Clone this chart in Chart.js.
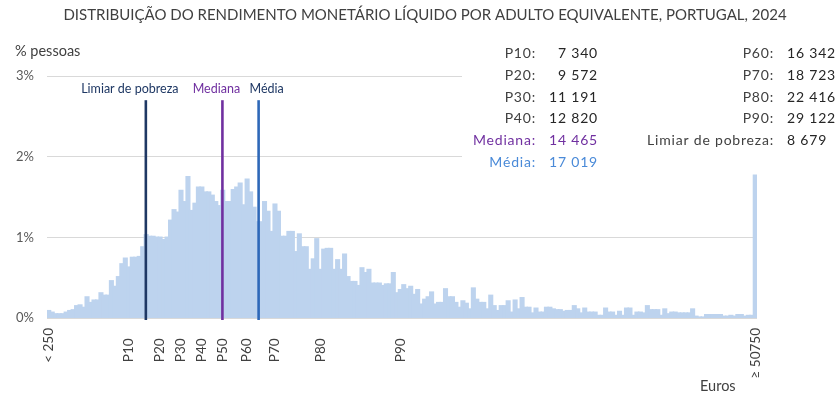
<!DOCTYPE html>
<html lang="pt">
<head>
<meta charset="utf-8">
<title>Distribuição do rendimento monetário líquido</title>
<script src="https://cdn.jsdelivr.net/npm/chart.js@4.4.1/dist/chart.umd.min.js"></script>
<style>
  body { margin: 0; background: #fff; }
  #wrap { width: 840px; height: 399px; }
</style>
</head>
<body>
<div id="wrap"><canvas id="grafico"></canvas></div>
<script>
// escalões de 250 euros: < 250, 250, 500, ..., >= 50750
const escaloes = ['< 250'];
for (let e = 250; e < 50750; e += 250) escaloes.push(String(e));
escaloes.push('≥ 50750');

// % de pessoas em cada escalão
const pessoas = [
  0.09,0.07,0.05,0.05,0.05,0.07,0.09,0.10,0.15,0.16,
  0.13,0.26,0.19,0.22,0.22,0.31,0.28,0.28,0.46,0.39,
  0.51,0.67,0.74,0.63,0.75,0.75,0.76,0.88,1.03,1.01,
  1.01,1.00,1.00,0.97,1.00,1.21,1.34,1.31,1.58,1.44,
  1.75,1.33,1.42,1.62,1.62,1.56,1.56,1.52,1.44,1.39,
  1.58,1.44,1.44,1.59,1.62,1.67,1.40,1.72,1.56,1.37,
  1.19,1.19,1.44,1.32,1.07,1.41,1.32,1.01,1.01,1.07,
  1.07,0.82,1.04,0.88,0.88,0.60,0.73,0.98,0.60,0.85,
  0.86,0.86,0.60,0.72,0.60,0.79,0.51,0.45,0.45,0.40,
  0.62,0.56,0.60,0.43,0.43,0.43,0.40,0.42,0.42,0.56,
  0.31,0.35,0.41,0.36,0.39,0.29,0.35,0.17,0.23,0.26,
  0.32,0.17,0.19,0.19,0.36,0.26,0.26,0.19,0.13,0.21,
  0.18,0.11,0.37,0.23,0.19,0.19,0.11,0.28,0.15,0.09,
  0.15,0.15,0.21,0.07,0.22,0.11,0.25,0.13,0.13,0.06,
  0.12,0.07,0.07,0.13,0.13,0.11,0.10,0.10,0.08,0.09,
  0.09,0.15,0.11,0.06,0.12,0.07,0.07,0.07,0.03,0.03,
  0.12,0.07,0.07,0.03,0.08,0.03,0.12,0.12,0.03,0.07,
  0.07,0.06,0.15,0.10,0.10,0.10,0.03,0.11,0.05,0.07,
  0.07,0.06,0.06,0.06,0.06,0.11,0.02,0.01,0.01,0.04,
  0.04,0.04,0.04,0.04,0.02,0.02,0.03,0.02,0.04,0.04,
  0.02,0.03,0.03,1.77
];

// rótulos do eixo x (índice do escalão -> texto)
const marcasEixo = {0:'< 250', 23:'P10', 32:'P20', 38:'P30', 44:'P40', 50:'P50',
  57:'P60', 65:'P70', 78:'P80', 101:'P90', 203:'≥ 50750'};

// linhas verticais (posição em escalões)
const linhasNomes = ['Limiar de pobreza', 'Mediana', 'Média'];
const linhasPos = [27.9, 49.9, 60.3];
const linhasCores = ['#1f3864', '#7030a0', '#2e68b8'];
const linhasTexto = ['#1f3864', '#7030a0', '#1f3864'];

// quadro de valores
const percentisNomes = ['P10', 'P20', 'P30', 'P40', 'P60', 'P70', 'P80', 'P90'];
const percentisValores = [7340, 9572, 11191, 12820, 16342, 18723, 22416, 29122];
const mediana = 14465;
const media = 17019;
const limiar = 8679;

const fonte = 'Lato, "Open Sans", sans-serif';
const fmt = n => String(n).replace(/\B(?=(\d{3})+(?!\d))/g, ' ');

const anotacoes = {
  id: 'anotacoes',
  beforeDatasetsDraw(chart) {
    // fundo branco do quadro de valores (tapa as linhas de grelha)
    const ctx = chart.ctx;
    ctx.save();
    ctx.fillStyle = '#fff';
    ctx.fillRect(462, 38, 378, 134);
    ctx.restore();
  },
  afterDatasetsDraw(chart) {
    const {ctx, scales: {x, y}} = chart;
    ctx.save();

    // linhas verticais
    const topo = y.getPixelForValue(2.7);
    const base = y.getPixelForValue(0) + 2;
    const desvio = [-16, -6, 8];
    linhasPos.forEach((p, i) => {
      const px = x.getPixelForValue(p);
      ctx.strokeStyle = linhasCores[i];
      ctx.lineWidth = 2.6;
      ctx.beginPath();
      ctx.moveTo(px, topo);
      ctx.lineTo(px, base);
      ctx.stroke();
      ctx.fillStyle = linhasTexto[i];
      ctx.font = '12.5px ' + fonte;
      ctx.textAlign = 'center';
      ctx.textBaseline = 'middle';
      ctx.fillText(linhasNomes[i], px + desvio[i], 89);
    });

    // título e títulos dos eixos
    ctx.fillStyle = '#404040';
    ctx.font = '15px ' + fonte;
    ctx.textAlign = 'center';
    ctx.fillText('DISTRIBUIÇÃO DO RENDIMENTO MONETÁRIO LÍQUIDO POR ADULTO EQUIVALENTE, PORTUGAL, 2024', 425, 15);
    ctx.font = '14.5px ' + fonte;
    ctx.textAlign = 'left';
    ctx.fillText('% pessoas', 15, 51);
    ctx.fillText('Euros', 700, 386);

    // quadro de valores
    ctx.font = '14px ' + fonte;
    ctx.letterSpacing = '0.8px';
    const linhasY = [53, 75, 97, 118, 140, 162];
    const col1 = [
      ['P10:', fmt(percentisValores[0]), '#404040', '#262626'],
      ['P20:', fmt(percentisValores[1]), '#404040', '#262626'],
      ['P30:', fmt(percentisValores[2]), '#404040', '#262626'],
      ['P40:', fmt(percentisValores[3]), '#404040', '#262626'],
      ['Mediana:', fmt(mediana), '#7030a0', '#7030a0'],
      ['Média:', fmt(media), '#4a8ad8', '#4a8ad8']
    ];
    col1.forEach((r, i) => {
      ctx.fillStyle = r[2];
      ctx.textAlign = 'right';
      ctx.fillText(r[0], 536, linhasY[i]);
      ctx.fillStyle = r[3];
      ctx.fillText(r[1], 598, linhasY[i]);
    });
    const col2 = [
      ['P60:', fmt(percentisValores[4])],
      ['P70:', fmt(percentisValores[5])],
      ['P80:', fmt(percentisValores[6])],
      ['P90:', fmt(percentisValores[7])],
      ['Limiar de pobreza:', fmt(limiar)]
    ];
    col2.forEach((r, i) => {
      ctx.fillStyle = '#404040';
      ctx.textAlign = 'right';
      ctx.fillText(r[0], 774, linhasY[i]);
      ctx.fillStyle = '#262626';
      ctx.textAlign = 'left';
      ctx.fillText(r[1], 787, linhasY[i]);
    });
    ctx.restore();
  }
};

const grafico = new Chart(document.getElementById('grafico'), {
  type: 'bar',
  data: {
    labels: escaloes,
    datasets: [{
      label: '% pessoas',
      data: pessoas,
      backgroundColor: '#bdd3ee',
      borderWidth: 0,
      inflateAmount: 0.8,
      barPercentage: 1,
      categoryPercentage: 1
    }]
  },
  options: {
    responsive: true,
    maintainAspectRatio: false,
    animation: false,
    layout: { padding: { top: 76, right: 83, left: 0, bottom: 0 } },
    plugins: {
      legend: { display: false },
      tooltip: { enabled: false }
    },
    scales: {
      x: {
        grid: { display: false, drawTicks: false },
        border: { display: false },
        ticks: {
          autoSkip: false,
          minRotation: 90,
          maxRotation: 90,
          padding: 10,
          color: '#404040',
          font: { family: fonte, size: 13.5 },
          callback: (v, i) => {
            const t = marcasEixo[i];
            if (!t) return '';
            return t.startsWith('P') ? t + '   ' : t;
          }
        },
        afterFit: s => { s.height = 81; }
      },
      y: {
        min: 0,
        max: 3,
        grid: { color: '#d9d9d9', drawTicks: false },
        border: { display: false },
        ticks: {
          stepSize: 1,
          padding: 13,
          color: '#595959',
          font: { family: fonte, size: 13 },
          callback: v => v + '%'
        },
        afterFit: s => { s.width = 47; }
      }
    }
  },
  plugins: [anotacoes]
});
</script>
</body>
</html>
